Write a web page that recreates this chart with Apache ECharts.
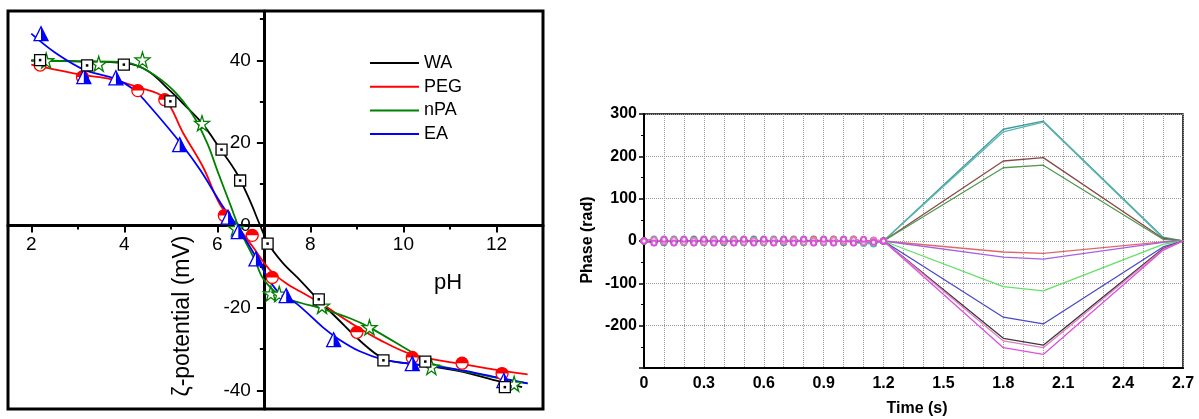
<!DOCTYPE html>
<html><head><meta charset="utf-8">
<script src="https://cdn.jsdelivr.net/npm/echarts@6/dist/echarts.min.js"></script>
<style>html,body{margin:0;padding:0;background:#fff}#c{width:1199px;height:419px}</style>
</head><body><div id="c"></div>
<script>
// ================= LEFT PANEL DATA (zeta potential vs pH) =================
const phTicks = [2, 4, 6, 8, 10, 12];
const phMinorTicks = [3, 5, 7, 9, 11];
const zetaTicks = [-40, -20, 0, 20, 40];
const zetaMinorTicks = [-30, -10, 10, 30, 50];
const legendNames = ['WA', 'PEG', 'nPA', 'EA'];
const phAxisCross = 7;   // pH where the vertical axis crosses
const zetaAxisCross = 0; // zeta where the horizontal axis crosses

// fitted curves [pH, zeta mV]
const waCurve = [[2.0,40.0],[3.0,39.8],[4.0,39.4],[4.5,37.5],[5.0,32.5],[5.27,29.5],[5.67,24.8],[6.06,18.6],[6.42,12.6],[6.7,6],[6.92,0],[7.1,-4.5],[7.4,-9],[7.78,-13.3],[8.16,-17.9],[8.6,-22.8],[9.06,-27.9],[9.57,-32.3],[10.0,-33.3],[10.5,-34],[11.2,-35.3],[12.0,-37.6],[12.55,-39.2]];
const pegCurve = [[2.0,39],[3.1,36.5],[3.7,35.5],[4.3,33.5],[4.85,31],[5.27,22.3],[5.7,14],[6.06,5],[6.42,0],[6.75,-5],[7.13,-10.8],[7.5,-14.2],[7.78,-16],[8.2,-18.7],[8.85,-23.5],[9.5,-27.8],[10.19,-31.3],[11.2,-33.5],[12.0,-35],[12.67,-36.1]];
const npaCurve = [[2.0,40],[3.0,39.8],[4.0,39.6],[4.5,37.5],[5.06,32.7],[5.49,26.5],[5.8,19.5],[6.0,13.3],[6.28,5],[6.5,-1.5],[6.81,-8.5],[6.99,-13],[7.35,-17],[7.8,-18.8],[8.14,-19.8],[8.85,-22.5],[9.27,-24.7],[10.19,-30.8],[10.6,-33.5],[11.56,-35.9],[12.67,-38.3]];
const eaCurve = [[2.0,46.5],[2.5,42],[3.13,37.8],[3.82,35.5],[4.2,33],[4.57,28.6],[5.25,19.4],[5.64,13.3],[6.13,4.4],[6.42,0],[6.85,-8],[7.28,-15.8],[7.71,-19],[8.27,-24.7],[8.6,-27.5],[9.06,-30.5],[9.57,-32.5],[10.19,-33.6],[11.2,-35],[12.0,-36.8],[12.67,-38.3]];

// measured points [pH, zeta mV]
const waPoints = [[2.19,40.1],[3.2,38.8],[3.99,39.0],[4.99,30.1],[6.09,18.4],[6.49,10.9],[7.08,-4.4],[8.18,-17.9],[9.57,-32.7],[10.47,-33],[12.18,-39.2]];
const pegPoints = [[2.19,38.9],[3.1,36],[4.29,32.7],[4.87,30.5],[6.15,2.4],[6.75,-2.4],[7.18,-12.6],[9.0,-25.9],[10.19,-32],[11.26,-33.4],[12.12,-35.9]];
const npaPoints = [[2.32,40],[3.45,39.2],[4.39,40.2],[5.67,24.8],[6.4,-0.7],[7.15,-16.5],[7.33,-16.6],[8.25,-19.5],[9.27,-24.7],[10.6,-34.3],[12.38,-38.4]];
const eaPoints = [[2.21,46.5],[3.13,36.1],[3.82,35.8],[5.19,19.6],[6.23,2.0],[6.45,-1.5],[6.83,-8.1],[7.48,-17],[8.5,-27.7],[10.19,-33.5],[12.16,-37.6]];

// ================= RIGHT PANEL DATA (phase vs time) =================
const earlyT = [0,0.05,0.1,0.15,0.2,0.25,0.3,0.35,0.4,0.45,0.5,0.55,0.6,0.65,0.7,0.75,0.8,0.85,0.9,0.95,1.0,1.05,1.1,1.15,1.2];
const lateT = [1.8, 2.0, 2.6, 2.7];
const phaseNames = ['teal1','teal2','brown','green','red','purple','lightgreen','blue','black','pink','magenta'];
const phaseColors = ['#3f9c9c','#5ab4b0','#8c4848','#4f9a4f','#e06868','#a860e0','#66e066','#4a4ac8','#3a3a3a','#e07cc0','#e050e0'];
const phaseEarly = [
  [0,5,-4,5,-4,5,-4,5,-4,5,-4,5,-4,5,-4,5,-4,5,-4,5,-4,5,-3,-6,0],
  [0,-4,5,-4,5,-4,5,-4,5,-4,5,-4,5,-4,5,-4,5,-4,5,-4,5,-4,-6,-7,0],
  [0,1,-2,2,-1,2,-2,1,-2,2,-1,2,-2,1,-2,3,-1,2,-2,3,-2,3,-1,2,0],
  [0,-1,2,-2,1,-2,2,-1,2,-2,1,-2,2,-1,2,-2,1,-2,2,-1,2,-2,1,-1,0],
  [0,2,-1,2,-2,1,-2,2,-1,2,-2,1,-2,2,-1,3,-2,4,-1,4,-2,4,-1,2,0],
  [0,-2,1,-2,2,-1,2,-2,1,-2,2,-1,2,-2,1,-2,2,-1,2,-2,1,-2,2,-1,0],
  [0,1,-1,1,-1,1,-1,1,-1,1,-1,1,-1,1,-1,1,-1,1,-1,1,-1,1,-1,1,0],
  [0,-1,1,-1,1,-1,1,-1,1,-1,1,-1,1,-1,1,-1,1,-1,1,-1,1,-1,1,-1,0],
  [0,0,-1,0,-1,0,-1,0,-1,0,-1,0,-1,0,-1,0,-1,0,-1,0,-1,-2,-2,-1,0],
  [0,3,-2,3,-3,2,-3,3,-2,3,-3,2,-3,3,-2,3,-3,2,-3,3,-2,3,-3,2,0],
  [0,-5,4,-5,4,-5,4,-5,4,-5,4,-5,4,-5,4,-5,4,-5,4,-5,4,-5,4,-3,0]
];
const phaseLate = [
  [264, 283, 9, 0],
  [258, 281, 7, 0],
  [189, 197, 6, 0],
  [173, 179, 4, 0],
  [-26, -29, -2, 0],
  [-38, -43, -3, 0],
  [-108, -118, -8, 0],
  [-180, -196, -14, 0],
  [-230, -246, -18, 0],
  [-236, -252, -20, 0],
  [-252, -268, -22, 0]
];
const timeTicksInterval = 0.3;
const phaseInterval = 100;

// ================= BUILD =================
const FONT = "'Liberation Sans', Arial, sans-serif";
const L = {left: 8, top: 11, width: 535, height: 398};
const phMin = 1.5, phMax = 13, zMin = -44.5, zMax = 52;
const yOffset = -((phAxisCross - phMin) / (phMax - phMin)) * L.width;
const xOffset = -((zetaAxisCross - zMin) / (zMax - zMin)) * L.height;

const chart = echarts.init(document.getElementById('c'), null, {renderer: 'canvas'});

const tickStyle = {color: '#000', width: 2};
const leftColors = {WA: '#000000', PEG: '#ff0000', nPA: '#008000', EA: '#0000ff'};

const STAR = 'path://M50,0 L61,35 L98,35 L68,57 L79,91 L50,70 L21,91 L32,57 L2,35 L39,35 Z';
const HALF_TOP_CIRCLE = 'path://M0,10 A10,10 0 0 1 20,10 Z';
const RIGHT_HALF_TRI = 'path://M0,0 L10,20 L0,20 Z';

function curve(name, data) {
  return {name, type: 'line', xAxisIndex: 0, yAxisIndex: 0, data, smooth: 0.35, symbol: 'none', showSymbol: false,
    lineStyle: {color: leftColors[name], width: 1.8}, itemStyle: {color: leftColors[name]}, z: 2};
}
function pts(name, data, extra) {
  return Object.assign({name: name + ' pts', type: 'scatter', xAxisIndex: 0, yAxisIndex: 0, data, z: 3}, extra);
}

const series = [
  curve('WA', waCurve), curve('PEG', pegCurve), curve('nPA', npaCurve), curve('EA', eaCurve),
  pts('PEG', pegPoints, {symbol: 'circle', symbolSize: 12, itemStyle: {color: '#fff', borderColor: '#ff0000', borderWidth: 1.3, opacity: 1}}),
  pts('PEG2', pegPoints, {symbol: HALF_TOP_CIRCLE, symbolSize: [12, 6], symbolOffset: [0, -3], itemStyle: {color: '#ff0000', opacity: 1}}),
  pts('nPA', npaPoints, {symbol: STAR, symbolSize: 15, itemStyle: {color: '#fff', borderColor: '#008000', borderWidth: 1.3, opacity: 1}}),
  pts('EA', eaPoints, {symbol: 'triangle', symbolSize: 14, itemStyle: {color: '#fff', borderColor: '#0000ff', borderWidth: 1.3, opacity: 1}}),
  pts('EA2', eaPoints, {symbol: RIGHT_HALF_TRI, symbolSize: [7, 14], symbolOffset: [3.5, 0], itemStyle: {color: '#0000ff', opacity: 1}}),
  pts('WA', waPoints, {symbol: 'rect', symbolSize: 11, itemStyle: {color: '#fff', borderColor: '#000', borderWidth: 1.3, opacity: 1}}),
  pts('WA2', waPoints, {symbol: 'rect', symbolSize: 2.5, itemStyle: {color: '#000', opacity: 1}})
];

phaseNames.forEach((n, i) => {
  const ts = earlyT.concat(lateT);
  const vs = phaseEarly[i].concat(phaseLate[i]);
  series.push({
    name: n, type: 'line', xAxisIndex: 2, yAxisIndex: 2,
    data: ts.map((t, k) => [t, vs[k]]),
    symbol: 'emptyCircle', showAllSymbol: true,
    symbolSize: (v) => (v[0] <= 1.2 ? 5 : 0),
    lineStyle: {color: phaseColors[i], width: 1.3},
    itemStyle: {color: phaseColors[i], borderWidth: 1},
    z: 2
  });
});

const option = {
  animation: false,
  backgroundColor: '#fff',
  textStyle: {fontFamily: FONT},
  legend: {
    orient: 'vertical', left: 370, top: 54, padding: 0, itemWidth: 49, itemHeight: 2, itemGap: 5.7,
    icon: 'rect', selectedMode: false, data: legendNames,
    textStyle: {fontSize: 18, lineHeight: 18, color: '#000', fontFamily: FONT}
  },
  grid: [
    {left: L.left, top: L.top, width: L.width, height: L.height, show: true, borderColor: '#000', borderWidth: 3,
      containLabel: false, outerBoundsMode: 'none'},
    {left: 644, top: 114, width: 539, height: 254, show: true, borderColor: '#000', borderWidth: 1.5,
      containLabel: false, outerBoundsMode: 'none'}
  ],
  xAxis: [
    {gridIndex: 0, type: 'value', min: phMin, max: phMax, position: 'bottom', offset: xOffset,
      axisLine: {onZero: false, lineStyle: {color: '#000', width: 3}},
      axisTick: {show: true, customValues: phTicks, length: 7, lineStyle: tickStyle},
      axisLabel: {customValues: phTicks, fontSize: 19, color: '#000', margin: 10, fontFamily: FONT},
      splitLine: {show: false}},
    {gridIndex: 0, type: 'value', min: phMin, max: phMax, position: 'bottom', offset: xOffset,
      axisLine: {show: false, onZero: false},
      axisTick: {show: true, customValues: phMinorTicks, length: 4, lineStyle: tickStyle},
      axisLabel: {show: false}, splitLine: {show: false}},
    {gridIndex: 1, type: 'value', min: 0, max: 2.7, interval: timeTicksInterval, position: 'bottom',
      axisLine: {onZero: false, lineStyle: {color: '#000', width: 2}},
      axisTick: {show: false},
      axisLabel: {fontSize: 16, fontWeight: 'bold', color: '#000', margin: 8, fontFamily: FONT,
        formatter: (v) => String(+v.toFixed(1))},
      splitLine: {show: true, lineStyle: {type: 'dotted', color: '#9a9a9a', width: 1}},
      minorTick: {show: false, splitNumber: 3},
      minorSplitLine: {show: true, lineStyle: {type: 'dotted', color: '#9a9a9a', width: 1}}}
  ],
  yAxis: [
    {gridIndex: 0, type: 'value', min: zMin, max: zMax, position: 'left', offset: yOffset,
      axisLine: {onZero: false, lineStyle: {color: '#000', width: 3}},
      axisTick: {show: true, customValues: zetaTicks, length: 7, lineStyle: tickStyle},
      axisLabel: {customValues: zetaTicks, fontSize: 19, color: '#000', margin: 13, fontFamily: FONT},
      splitLine: {show: false}},
    {gridIndex: 0, type: 'value', min: zMin, max: zMax, position: 'left', offset: yOffset,
      axisLine: {show: false, onZero: false},
      axisTick: {show: true, customValues: zetaMinorTicks, length: 4, lineStyle: tickStyle},
      axisLabel: {show: false}, splitLine: {show: false}},
    {gridIndex: 1, type: 'value', min: -300, max: 300, interval: phaseInterval, position: 'left',
      axisLine: {onZero: false, lineStyle: {color: '#000', width: 2}},
      axisTick: {show: true, length: 5, lineStyle: {color: '#000', width: 1.5}},
      minorTick: {show: true, splitNumber: 2, length: 3, lineStyle: {color: '#000', width: 1}},
      axisLabel: {fontSize: 16, fontWeight: 'bold', color: '#000', margin: 7, fontFamily: FONT,
        formatter: (v) => (v <= -300 ? '' : String(v))},
      splitLine: {show: true, lineStyle: {type: 'dotted', color: '#9a9a9a', width: 1}}}
  ],
  graphic: [
    {type: 'text', x: 183, y: 316, rotation: Math.PI / 2, z: 100,
      style: {text: 'ζ-potential (mV)', fill: '#000', font: "23px " + FONT, textAlign: 'center', textVerticalAlign: 'middle', align: 'center', verticalAlign: 'middle'}},
    {type: 'text', x: 448, y: 283, z: 100,
      style: {text: 'pH', fill: '#000', font: "22px " + FONT, textAlign: 'center', textVerticalAlign: 'middle', align: 'center', verticalAlign: 'middle'}},
    {type: 'text', x: 588, y: 240, rotation: Math.PI / 2, z: 100,
      style: {text: 'Phase (rad)', fill: '#000', font: "bold 16px " + FONT, textAlign: 'center', textVerticalAlign: 'middle', align: 'center', verticalAlign: 'middle'}},
    {type: 'text', x: 917, y: 409, z: 100,
      style: {text: 'Time (s)', fill: '#000', font: "bold 16px " + FONT, textAlign: 'center', textVerticalAlign: 'middle', align: 'center', verticalAlign: 'middle'}}
  ],
  series
};
chart.setOption(option);
</script>
</body></html>
